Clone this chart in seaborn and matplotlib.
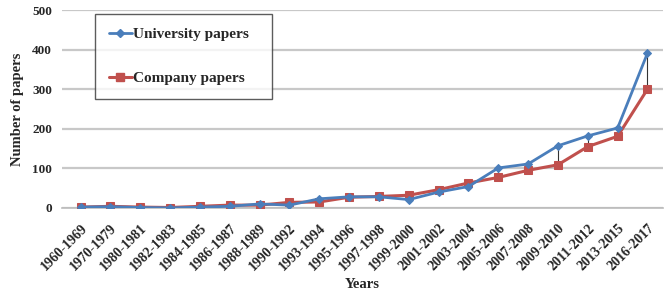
import matplotlib
matplotlib.use("Agg")
import matplotlib.pyplot as plt
import seaborn as sns
import pandas as pd
from matplotlib.lines import Line2D

periods = ["1960-1969", "1970-1979", "1980-1981", "1982-1983", "1984-1985", "1986-1987",
           "1988-1989", "1990-1992", "1993-1994", "1995-1996", "1997-1998", "1999-2000",
           "2001-2002", "2003-2004", "2005-2006", "2007-2008", "2009-2010", "2011-2012",
           "2013-2015", "2016-2017"]
university = [2, 3, 1, 0, 2, 4, 10, 7, 23, 28, 28, 21, 40, 54, 101, 111, 157, 182, 202, 391]
company = [2, 4, 2, 1, 4, 7, 7, 14, 15, 27, 29, 32, 46, 63, 77, 95, 109, 155, 181, 300]
y_ticks = [0, 100, 200, 300, 400, 500]

BLUE = "#4A7EBB"
RED = "#C0504D"

sns.set_theme(style="white")
plt.rcParams["font.family"] = ["Liberation Serif", "DejaVu Serif"]
plt.rcParams["font.weight"] = "bold"

df = pd.DataFrame({"period": periods, "University papers": university, "Company papers": company})

fig = plt.figure(figsize=(6.72, 2.97), dpi=100)
ax = fig.add_axes([0.092, 0.300, 0.895, 0.666])

ax.set_ylim(0, 500)
ax.set_yticks(y_ticks)
ax.yaxis.grid(True, color="#C8C8C8", linewidth=1.6)
ax.set_axisbelow(True)

# high-low lines between the two series
ax.vlines(range(len(periods)), df["Company papers"], df["University papers"],
          color="#333333", linewidth=0.8, zorder=2)

sns.lineplot(data=df, x="period", y="University papers", ax=ax, color=BLUE,
             marker="D", markersize=4, markeredgecolor=BLUE, linewidth=2.0, sort=False, zorder=4)
sns.lineplot(data=df, x="period", y="Company papers", ax=ax, color=RED,
             marker="s", markersize=6, markeredgecolor=RED, linewidth=2.2, sort=False, zorder=3)

ax.set_xlim(-0.63, len(periods) - 1 + 0.53)
for s in ["left", "top", "right"]:
    ax.spines[s].set_visible(False)
ax.spines["bottom"].set_color("#BBBBBB")
ax.spines["bottom"].set_linewidth(1.2)

ax.tick_params(axis="y", labelsize=9.5, pad=7, length=0)
ax.tick_params(axis="x", labelsize=10, pad=10, length=0)
for lab in ax.get_yticklabels():
    lab.set_fontweight("bold")
ax.set_xticks(range(len(periods)))
ax.set_xticklabels(periods, rotation=45, ha="right", rotation_mode="anchor", fontweight="bold")

ax.set_ylabel("Number of papers", fontsize=10.5, fontweight="bold", labelpad=6)
ax.set_xlabel("Years", fontsize=10.5, fontweight="bold", labelpad=3)

handles = [Line2D([0], [0], color=BLUE, marker="D", markersize=4, linewidth=2.0),
           Line2D([0], [0], color=RED, marker="s", markersize=6, linewidth=2.2)]
leg = ax.legend(handles, ["University papers", "Company papers"], loc="upper left",
                bbox_to_anchor=(0.0549, 0.58, 0.2945, 0.40), mode="expand", frameon=True,
                fancybox=False,
                prop={"family": "Liberation Serif", "weight": "bold", "size": 11},
                labelspacing=1.95, handlelength=1.5, handletextpad=0.1,
                borderpad=0.9, borderaxespad=0.0)
leg.get_frame().set_edgecolor("#333333")
leg.get_frame().set_linewidth(1.0)

fig.savefig("out.png", dpi=100)
